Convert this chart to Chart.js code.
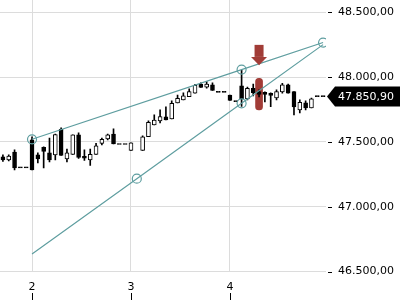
<!DOCTYPE html>
<html><head><meta charset="utf-8">
<script src="https://cdn.jsdelivr.net/npm/chart.js@4"></script>
<style>html,body{margin:0;padding:0;background:#fff}canvas{display:block}</style>
</head><body>
<canvas id="c" width="400" height="300"></canvas>
<script>
// ---- data ----
const candleIndex = [-5,-4,-3,-2,-1,0,1,2,3,4,5,6,7,8,9,10,11,12,13,14,15,16,17,18,19,20,21,22,23,24,25,26,27,28,29,30,31,32,33,34,35,36,37,38,39,40,41,42,43,44,45,46,47,48,49,50];
const opens  = [47385,47362,47423,47300,47300,47516,47400,47458,47416,47400,47597,47369,47404,47555,47389,47362,47405,47489,47524,47562,47481,47481,47435,null,47435,47541,47632,47663,47694,47678,47802,47825,47850,47877,47945,47923,47941,47883,47883,47863,47812,47933,47832,47914,47889,47883,47875,47840,47887,47941,47889,47748,47802,47763,47850.9,47850.9];
const highs  = [47400,47400,47439,47300,47300,47539,47416,47462,47531,47562,47609,47446,47555,47570,47439,47446,47490,47531,47562,47601,47481,47481,47493,null,47547,47663,47709,47748,47771,47817,47863,47879,47910,47945,47956,47966,47956,47883,47883,47863,47812,48056,47925,47948,47902,47887,47879,47902,47953,47948,47889,47825,47817,47840,47850.9,47850.9];
const lows   = [47350,47354,47284,47300,47300,47284,47338,47300,47346,47362,47396,47346,47404,47373,47358,47319,47405,47477,47516,47485,47481,47481,47435,null,47435,47541,47632,47647,47670,47678,47802,47825,47850,47877,47921,47915,47898,47883,47883,47821,47812,47775,47825,47856,47848,47809,47773,47825,47877,47877,47709,47724,47748,47763,47850.9,47850.9];
const closes = [47362,47392,47300,47300,47300,47284,47369,47427,47362,47558,47396,47416,47555,47381,47375,47404,47470,47520,47555,47485,47481,47481,47493,null,47539,47651,47670,47696,47670,47798,47838,47856,47889,47937,47921,47948,47898,47883,47883,47821,47812,47832,47915,47881,47867,47867,47860,47889,47941,47877,47771,47806,47763,47833,47850.9,47850.9];

const dayStartIndex = [0, 17, 34];
const dayLabels = ['2', '3', '4'];
const yTickValues = [46500, 47000, 47500, 48000, 48500];
const lastPrice = 47850.90;

const upperTrendX = [0, 36, 50];
const upperTrendY = [47521, 48059, 48268];
const lowerTrendX = [0, 18, 36, 50];
const lowerTrendY = [46635, 47217, 47799, 48252];

const signalIndex = 39;
const signalArrowTop = 48250, signalArrowHeadBase = 48157, signalArrowTip = 48093;
const signalBarRange = [47748, 47992];

// ---- helpers ----
function fmtDE(v){
  const parts = Math.abs(v).toFixed(2).split('.');
  return (v < 0 ? '-' : '') + parts[0].replace(/\B(?=(\d{3})+(?!\d))/g, '.') + ',' + parts[1];
}
const teal = '#5f9ea0';
const red = '#a13c37';
const gridColor = '#dcdcdc';
const font = { family: 'DejaVu Sans', size: 11 };

const valid = candleIndex.map((_, k) => k).filter(k => opens[k] !== null);
const bodyData = valid.map(k => ({ x: candleIndex[k], y: [opens[k], closes[k]] }));
const bodyFill = valid.map(k => closes[k] > opens[k] ? '#ffffff' : '#000000');
const wickData = valid.filter(k => highs[k] !== lows[k]).map(k => ({ x: candleIndex[k], y: [lows[k], highs[k]] }));

const decor = {
  id: 'decor',
  afterDatasetsDraw(chart) {
    const { ctx, scales: { x, y } } = chart;
    // signal arrow
    const ax = x.getPixelForValue(signalIndex);
    const yt = y.getPixelForValue(signalArrowTop);
    const yb = y.getPixelForValue(signalArrowHeadBase);
    const yp = y.getPixelForValue(signalArrowTip);
    ctx.save();
    ctx.fillStyle = red;
    ctx.fillRect(ax - 4.5, yt, 9, yb - yt);
    ctx.beginPath();
    ctx.moveTo(ax - 8, yb);
    ctx.lineTo(ax + 8, yb);
    ctx.lineTo(ax, yp);
    ctx.closePath();
    ctx.fill();
    ctx.restore();
  },
  afterDraw(chart) {
    const { ctx, chartArea, scales: { x, y } } = chart;
    ctx.save();
    ctx.strokeStyle = '#000';
    ctx.lineWidth = 1;
    yTickValues.forEach(v => {
      const py = Math.round(y.getPixelForValue(v)) + 0.5;
      ctx.beginPath();
      ctx.moveTo(chartArea.right + 2, py);
      ctx.lineTo(chartArea.right + 6, py);
      ctx.stroke();
    });
    dayStartIndex.forEach(v => {
      const px = Math.round(x.getPixelForValue(v)) + 0.5;
      ctx.beginPath();
      ctx.moveTo(px, chartArea.bottom + 21.5);
      ctx.lineTo(px, chart.height);
      ctx.stroke();
    });
    // last price tag
    const py = y.getPixelForValue(lastPrice);
    const left = chartArea.right + 1;
    ctx.fillStyle = '#000';
    ctx.beginPath();
    ctx.moveTo(left, py);
    ctx.lineTo(left + 8, py - 10);
    ctx.lineTo(chart.width, py - 10);
    ctx.lineTo(chart.width, py + 10);
    ctx.lineTo(left + 8, py + 10);
    ctx.closePath();
    ctx.fill();
    ctx.fillStyle = '#fff';
    ctx.font = '11px "DejaVu Sans"';
    ctx.textBaseline = 'middle';
    ctx.textAlign = 'left';
    ctx.fillText(fmtDE(lastPrice), chartArea.right + 12, py + 0.5);
    ctx.restore();
  }
};

new Chart(document.getElementById('c'), {
  type: 'bar',
  data: {
    datasets: [
      {
        type: 'line', label: 'upper',
        data: upperTrendX.map((v, k) => ({ x: v, y: upperTrendY[k] })),
        borderColor: teal, borderWidth: 1.2, fill: false, tension: 0,
        pointRadius: [4.5, 4.5, 4.5], pointBorderColor: teal, pointBorderWidth: 1.2,
        pointBackgroundColor: 'rgba(255,255,255,0)'
      },
      {
        type: 'line', label: 'lower',
        data: lowerTrendX.map((v, k) => ({ x: v, y: lowerTrendY[k] })),
        borderColor: teal, borderWidth: 1.2, fill: false, tension: 0,
        pointRadius: [0, 4.5, 4.5, 0], pointBorderColor: teal, pointBorderWidth: 1.2,
        pointBackgroundColor: 'rgba(255,255,255,0)'
      },
      {
        label: 'body', data: bodyData, grouped: false, barThickness: 4,
        backgroundColor: bodyFill, borderColor: '#000', borderWidth: 1,
        borderSkipped: false, minBarLength: 1
      },
      {
        label: 'wick', data: wickData, grouped: false, barThickness: 1,
        backgroundColor: '#000', borderWidth: 0
      },
      {
        label: 'signal', data: [{ x: signalIndex, y: signalBarRange }], grouped: false,
        barThickness: 7, backgroundColor: red, borderWidth: 0, borderRadius: 3.5, borderSkipped: false
      }
    ]
  },
  options: {
    responsive: false, animation: false, events: [],
    layout: { padding: 0, autoPadding: false },
    plugins: { legend: { display: false }, tooltip: { enabled: false } },
    scales: {
      x: {
        type: 'linear', min: -5.5, max: 50.5, offset: false,
        grid: { color: gridColor, drawTicks: false, offset: false },
        border: { display: false },
        ticks: { font, color: '#000', padding: 9, maxRotation: 0, autoSkip: false,
          callback: v => { const k = dayStartIndex.indexOf(v); return k >= 0 ? dayLabels[k] : ''; } },
        afterBuildTicks: s => { s.ticks = dayStartIndex.map(v => ({ value: v })); },
        afterFit: s => { s.height = 28.5; s.paddingLeft = 0; s.paddingRight = 0; }
      },
      y: {
        type: 'linear', position: 'right', min: 46500, max: 48596.5, beginAtZero: false,
        grid: { color: gridColor, drawTicks: false },
        border: { display: false },
        ticks: { font, color: '#000', padding: 12, callback: v => fmtDE(v) },
        afterBuildTicks: s => { s.ticks = yTickValues.map(v => ({ value: v })); },
        afterFit: s => { s.width = 74; s.paddingTop = 0; s.paddingBottom = 0; }
      }
    }
  },
  plugins: [decor]
});
</script>
</body></html>
